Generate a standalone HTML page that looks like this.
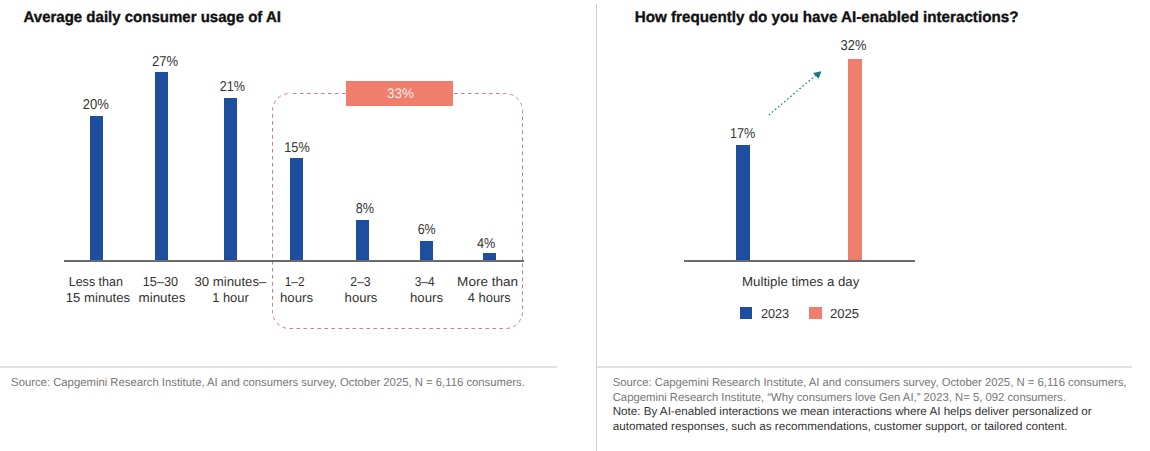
<!DOCTYPE html>
<html><head><meta charset="utf-8">
<style>
html,body{margin:0;padding:0;background:#fff;width:1150px;height:451px;overflow:hidden}
svg{display:block}
text{font-family:"Liberation Sans",sans-serif;text-rendering:geometricPrecision}
.t{font-weight:bold;font-size:15.3px;fill:#111;stroke:#111;stroke-width:0.35px}
.v{font-size:14.3px;fill:#333}
.x{font-size:13px;fill:#333}
.s{font-size:11.5px;fill:#777}
.n{font-size:11.5px;fill:#333}
</style></head>
<body>
<svg width="1150" height="451" viewBox="0 0 1150 451">
<!-- dividers -->
<rect x="596" y="4" width="1" height="447" fill="#cfcfcf"/>
<rect x="0" y="366" width="557" height="2" fill="#e2e2e2"/>
<rect x="597" y="366" width="535" height="2" fill="#e2e2e2"/>

<!-- LEFT CHART -->
<text class="t" x="23.5" y="22" textLength="257.5" lengthAdjust="spacingAndGlyphs">Average daily consumer usage of AI</text>

<!-- dashed box -->
<rect x="272.5" y="93.5" width="250" height="235" rx="17" ry="17" fill="none" stroke="#d27c89" stroke-width="1" stroke-dasharray="3.6 3.4" stroke-dashoffset="-3.5"/>
<rect x="346" y="81" width="107" height="25" fill="#f07e6c"/>
<text x="387" y="98" textLength="27" lengthAdjust="spacingAndGlyphs" style="font-size:14px;fill:#fff;fill-opacity:0.88">33%</text>

<!-- bars -->
<g fill="#1e4f9e">
<rect x="90" y="116" width="13" height="145"/>
<rect x="155" y="72" width="13" height="189"/>
<rect x="224" y="98" width="13" height="163"/>
<rect x="290" y="158" width="13" height="103"/>
<rect x="356" y="220" width="13" height="41"/>
<rect x="420" y="241" width="13" height="20"/>
<rect x="483" y="253" width="13" height="8"/>
</g>
<rect x="64" y="260" width="460" height="2" fill="#6b6b6b"/>

<g class="v">
<text class="v" x="82.7" y="109" textLength="26.1" lengthAdjust="spacingAndGlyphs">20%</text>
<text class="v" x="152" y="66" textLength="26.3" lengthAdjust="spacingAndGlyphs">27%</text>
<text class="v" x="219.7" y="91" textLength="25.3" lengthAdjust="spacingAndGlyphs">21%</text>
<text class="v" x="284.3" y="152" textLength="25.4" lengthAdjust="spacingAndGlyphs">15%</text>
<text class="v" x="355.7" y="213" textLength="18.3" lengthAdjust="spacingAndGlyphs">8%</text>
<text class="v" x="417.7" y="234" textLength="18" lengthAdjust="spacingAndGlyphs">6%</text>
<text class="v" x="477" y="248" textLength="18.3" lengthAdjust="spacingAndGlyphs">4%</text>
</g>

<g>
<text class="x" x="68.7" y="286" textLength="54.3" lengthAdjust="spacingAndGlyphs">Less than</text>
<text class="x" x="65.8" y="302" textLength="64.2" lengthAdjust="spacingAndGlyphs">15 minutes</text>
<text class="x" x="142.8" y="286" textLength="35.3" lengthAdjust="spacingAndGlyphs">15–30</text>
<text class="x" x="138.5" y="302" textLength="46.9" lengthAdjust="spacingAndGlyphs">minutes</text>
<text class="x" x="194.5" y="286" textLength="71.9" lengthAdjust="spacingAndGlyphs">30 minutes–</text>
<text class="x" x="212.2" y="302" textLength="36.5" lengthAdjust="spacingAndGlyphs">1 hour</text>
<text class="x" x="284.7" y="286" textLength="19.8" lengthAdjust="spacingAndGlyphs">1–2</text>
<text class="x" x="280" y="302" textLength="33" lengthAdjust="spacingAndGlyphs">hours</text>
<text class="x" x="350.3" y="286" textLength="20.3" lengthAdjust="spacingAndGlyphs">2–3</text>
<text class="x" x="344.6" y="302" textLength="32.8" lengthAdjust="spacingAndGlyphs">hours</text>
<text class="x" x="414.7" y="286" textLength="19.8" lengthAdjust="spacingAndGlyphs">3–4</text>
<text class="x" x="410" y="302" textLength="33" lengthAdjust="spacingAndGlyphs">hours</text>
<text class="x" x="457.1" y="286" textLength="61" lengthAdjust="spacingAndGlyphs">More than</text>
<text class="x" x="467.8" y="302" textLength="43" lengthAdjust="spacingAndGlyphs">4 hours</text>
</g>

<text class="s" x="11.1" y="386" textLength="513.7" lengthAdjust="spacingAndGlyphs">Source: Capgemini Research Institute, AI and consumers survey, October 2025, N = 6,116 consumers.</text>

<!-- RIGHT CHART -->
<text class="t" x="634.7" y="22" textLength="383.8" lengthAdjust="spacingAndGlyphs">How frequently do you have AI-enabled interactions?</text>
<rect x="736" y="145" width="14" height="116" fill="#1e4f9e"/>
<rect x="848" y="59" width="14" height="202" fill="#f07e6c"/>
<rect x="684" y="260" width="231" height="2" fill="#6b6b6b"/>
<text class="v" x="729.9" y="138" textLength="25.3" lengthAdjust="spacingAndGlyphs">17%</text>
<text class="v" x="840.6" y="50" textLength="25.9" lengthAdjust="spacingAndGlyphs">32%</text>

<!-- arrow -->
<line x1="769" y1="115" x2="816" y2="75" stroke="#157a82" stroke-width="1.2" stroke-dasharray="1.6 2.4"/>
<polygon points="813,72.9 821.4,71.2 818.6,78.8" fill="#157a82"/>

<text class="x" x="742" y="286" textLength="117.4" lengthAdjust="spacingAndGlyphs">Multiple times a day</text>
<rect x="740" y="307" width="12" height="12" fill="#1e4f9e"/>
<text class="x" x="760.9" y="318" textLength="28.3" lengthAdjust="spacingAndGlyphs">2023</text>
<rect x="809" y="307" width="13" height="12" fill="#f07e6c"/>
<text class="x" x="830" y="318" textLength="29.1" lengthAdjust="spacingAndGlyphs">2025</text>

<text class="s" x="612.7" y="386" textLength="513.8" lengthAdjust="spacingAndGlyphs">Source: Capgemini Research Institute, AI and consumers survey, October 2025, N = 6,116 consumers,</text>
<text class="s" x="612.7" y="400.7" textLength="453.2" lengthAdjust="spacingAndGlyphs">Capgemini Research Institute, “Why consumers love Gen AI,” 2023, N= 5, 092 consumers.</text>
<text class="n" x="612.7" y="415" textLength="479" lengthAdjust="spacingAndGlyphs">Note: By AI-enabled interactions we mean interactions where AI helps deliver personalized or</text>
<text class="n" x="612.7" y="429.8" textLength="454.6" lengthAdjust="spacingAndGlyphs">automated responses, such as recommendations, customer support, or tailored content.</text>
</svg>
</body></html>
